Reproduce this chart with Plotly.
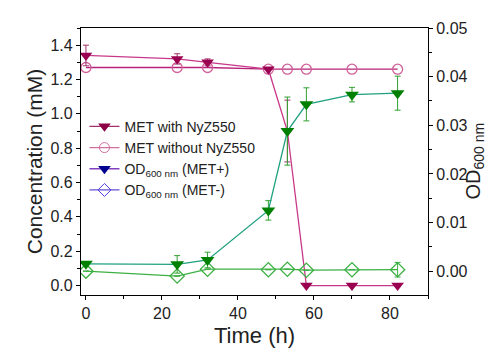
import plotly.graph_objects as go

time_h = [0, 24, 32, 48, 53, 58, 70, 82]
met_with = [1.34, 1.32, 1.30, 1.26, 0.90, 0.0, 0.0, 0.0]
met_with_err = [0.06, 0.03, 0.02, 0.0, 0.18, 0.0, 0.0, 0.0]
met_without = [1.27, 1.27, 1.27, 1.26, 1.26, 1.26, 1.26, 1.26]
od_met_plus = [0.0015, 0.0014, 0.0023, 0.0125, 0.0288, 0.0343, 0.0363, 0.0366]
od_met_plus_err = [0.0, 0.0018, 0.0016, 0.002, 0.007, 0.0034, 0.0015, 0.0035]
od_met_minus = [0.0, -0.001, 0.0004, 0.0003, 0.0004, 0.0002, 0.0003, 0.0003]
od_met_minus_err = [0, 0, 0, 0, 0, 0, 0, 0.0015]

legend_names = ["MET with NyZ550", "MET without NyZ550",
                "OD<sub>600 nm</sub> (MET+)", "OD<sub>600 nm</sub> (MET-)"]

FONT = "Arial, Liberation Sans, sans-serif"
fig = go.Figure()

# data traces
fig.add_trace(go.Scatter(x=time_h, y=met_without, mode="lines+markers", showlegend=False,
                         line=dict(color="#B8237A", width=1.3),
                         marker=dict(symbol="circle-open", size=10, color="#D0609A", line=dict(width=1.3))))
fig.add_trace(go.Scatter(x=time_h, y=met_with, mode="lines+markers", showlegend=False,
                         line=dict(color="#C8388A", width=1.3),
                         marker=dict(symbol="triangle-down", size=11, color="#990050"),
                         error_y=dict(type="data", array=met_with_err, color="#A0306E", thickness=1, width=3)))
fig.add_trace(go.Scatter(x=time_h, y=od_met_minus, yaxis="y2", mode="lines+markers", showlegend=False,
                         line=dict(color="#3CB043", width=1.3),
                         marker=dict(symbol="diamond-open", size=11, color="#3CB043", line=dict(width=1.3)),
                         error_y=dict(type="data", array=od_met_minus_err, color="#3CB043", thickness=1, width=3)))
fig.add_trace(go.Scatter(x=time_h, y=od_met_plus, yaxis="y2", mode="lines+markers", showlegend=False,
                         line=dict(color="#20A080", width=1.3),
                         marker=dict(symbol="triangle-down", size=12, color="#008000"),
                         error_y=dict(type="data", array=od_met_plus_err, color="#30A030", thickness=1, width=3)))

# legend entries
leg_styles = [
    dict(line=dict(color="#A0306E", width=1.3), marker=dict(symbol="triangle-down", size=11, color="#8B0045")),
    dict(line=dict(color="#D070A0", width=1.3), marker=dict(symbol="circle-open", size=10, color="#D070A0")),
    dict(line=dict(color="#8040C0", width=1.3), marker=dict(symbol="triangle-down", size=11, color="#000090")),
    dict(line=dict(color="#6050D0", width=1.3), marker=dict(symbol="diamond-open", size=10, color="#5040E0")),
]
for name, st in zip(legend_names, leg_styles):
    fig.add_trace(go.Scatter(x=[None], y=[None], mode="lines+markers", name=name, **st))

axis_common = dict(showline=True, linecolor="black", linewidth=1.3, ticks="outside",
                   ticklen=4, tickwidth=1.3, tickcolor="black", showgrid=False, zeroline=False,
                   tickfont=dict(family=FONT, size=16, color="#222"))

fig.update_layout(
    width=495, height=348,
    margin=dict(l=73, r=75, t=17, b=51),
    plot_bgcolor="white", paper_bgcolor="white",
    font=dict(family=FONT, color="#222"),
    xaxis=dict(range=[-1.3, 90], dtick=20, mirror=True,
               minor=dict(dtick=10, ticks="outside", ticklen=3, tickcolor="black"),
               title=dict(text="Time (h)", font=dict(family=FONT, size=22), standoff=6),
               **axis_common),
    yaxis=dict(range=[-0.055, 1.5], dtick=0.2, tickformat=".1f",
               minor=dict(dtick=0.1, ticks="outside", ticklen=3, tickcolor="black"),
               title=dict(text="Concentration (mM)", font=dict(family=FONT, size=21), standoff=2),
               **axis_common),
    yaxis2=dict(range=[-0.0049, 0.05], dtick=0.01, tickformat=".2f", overlaying="y", side="right",
                minor=dict(dtick=0.005, ticks="outside", ticklen=3, tickcolor="black"),
                **axis_common),
    legend=dict(x=0.01, y=0.69, xanchor="left", yanchor="top", bgcolor="rgba(0,0,0,0)",
                font=dict(family=FONT, size=14, color="#222"), tracegroupgap=0, itemwidth=30),
    annotations=[dict(text="OD<sub>600 nm</sub>", textangle=-90, xref="paper", yref="paper",
                      x=1.0, xshift=46, y=0.5, xanchor="center", yanchor="middle", showarrow=False,
                      font=dict(family=FONT, size=20, color="#222"))],
)

fig.write_html("out.html")
